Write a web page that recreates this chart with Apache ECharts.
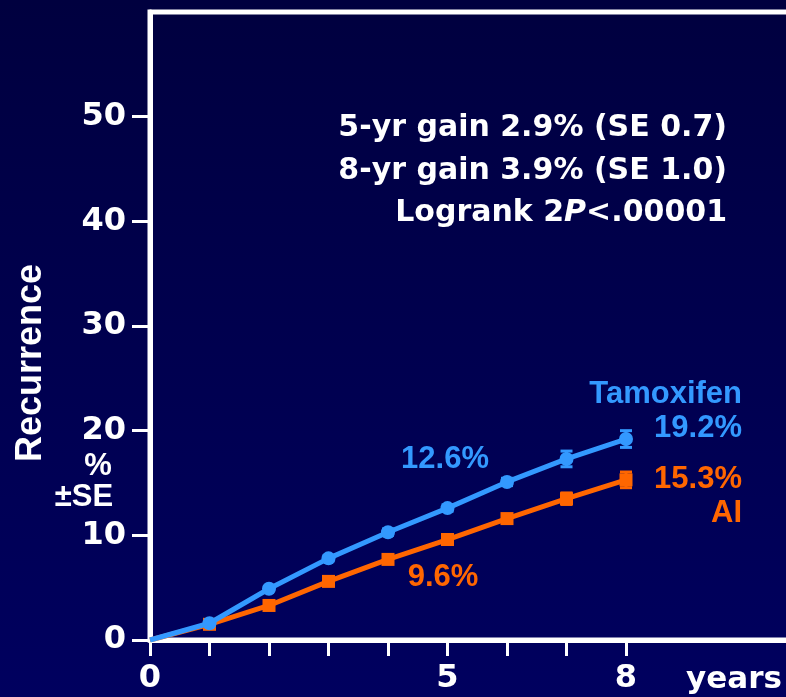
<!DOCTYPE html>
<html>
<head>
<meta charset="utf-8">
<script src="https://cdn.jsdelivr.net/npm/echarts@6/dist/echarts.min.js"></script>
<style>
  html, body { margin: 0; padding: 0; }
  #chart { width: 786px; height: 697px; }
</style>
</head>
<body>
<div id="chart"></div>
<script>
// Cumulative recurrence (%) by year of follow-up
const years = [0, 1, 2, 3, 4, 5, 6, 7, 8];
const tamoxifen = [0, 1.6, 4.9, 7.8, 10.3, 12.6, 15.1, 17.3, 19.2];
const tamoxifenSE = [0, 0.1, 0.2, 0.25, 0.3, 0.3, 0.35, 0.75, 0.8];
const ai = [0, 1.5, 3.3, 5.6, 7.7, 9.6, 11.6, 13.5, 15.3];
const aiSE = [0, 0.1, 0.15, 0.2, 0.25, 0.3, 0.35, 0.55, 0.75];

const yTicks = [0, 10, 20, 30, 40, 50];
const xTicks = [0, 1, 2, 3, 4, 5, 6, 7, 8];
const xLabels = [0, 5, 8];

const summaryLines = [
  '5-yr gain 2.9% (SE 0.7)',
  '8-yr gain 3.9% (SE 1.0)'
];

const BLUE = '#3399ff';
const ORANGE = '#ff6600';
const FONT = '"Liberation Sans", Arial, sans-serif';
const WIDE = '"DejaVu Sans", sans-serif';

const pct = v => v.toFixed(1) + '%';
const pairs = (xs, ys) => xs.map((x, i) => [x, ys[i]]);
const errData = (xs, ys, se) => xs.map((x, i) => [x, ys[i], se[i]]).filter(d => d[2] > 0);

function errorBar(color) {
  return function (params, api) {
    const x = api.value(0), y = api.value(1), se = api.value(2);
    const hi = api.coord([x, y + se]);
    const lo = api.coord([x, y - se]);
    const half = 6;
    const style = { stroke: color, lineWidth: 3 };
    return {
      type: 'group',
      children: [
        { type: 'line', shape: { x1: hi[0], y1: hi[1], x2: lo[0], y2: lo[1] }, style },
        { type: 'line', shape: { x1: hi[0] - half, y1: hi[1], x2: hi[0] + half, y2: hi[1] }, style },
        { type: 'line', shape: { x1: lo[0] - half, y1: lo[1], x2: lo[0] + half, y2: lo[1] }, style }
      ]
    };
  };
}

const txt = (text, x, y, opts) => ({
  type: 'text', x, y, z: 10,
  style: Object.assign({
    text, fill: '#fff', font: 'bold 30px ' + FONT,
    textAlign: 'right', textVerticalAlign: 'middle'
  }, opts || {})
});

const chart = echarts.init(document.getElementById('chart'));
chart.setOption({
  animation: false,
  backgroundColor: {
    type: 'linear', x: 0, y: 0, x2: 0, y2: 1,
    colorStops: [{ offset: 0, color: '#00003f' }, { offset: 1, color: '#00005f' }]
  },
  grid: {
    left: 150, top: 12, width: 654.5, height: 628,
    outerBoundsMode: 'none', containLabel: false,
    show: true, borderColor: '#ffffff', borderWidth: 5,
    backgroundColor: 'transparent'
  },
  xAxis: {
    type: 'value', min: 0, max: 11, interval: 1,
    axisLine: { show: true, onZero: false, lineStyle: { color: '#fff', width: 5 } },
    axisTick: { show: true, customValues: xTicks, length: 16, lineStyle: { color: '#fff', width: 3 } },
    axisLabel: {
      customValues: xLabels, color: '#fff', fontSize: 32, fontWeight: 'bold',
      fontFamily: WIDE, margin: 23
    },
    splitLine: { show: false }
  },
  yAxis: {
    type: 'value', min: 0, max: 60, interval: 10,
    axisLine: { show: true, lineStyle: { color: '#fff', width: 5 } },
    axisTick: { show: true, customValues: yTicks, length: 18, lineStyle: { color: '#fff', width: 3 } },
    axisLabel: {
      customValues: yTicks, color: '#fff', fontSize: 32, fontWeight: 'bold',
      fontFamily: WIDE, margin: 24
    },
    splitLine: { show: false }
  },
  series: [
    {
      name: 'AI err', type: 'custom', z: 2, silent: true,
      renderItem: errorBar(ORANGE), data: errData(years, ai, aiSE)
    },
    {
      name: 'Tamoxifen err', type: 'custom', z: 2, silent: true,
      renderItem: errorBar(BLUE), data: errData(years, tamoxifen, tamoxifenSE)
    },
    {
      name: 'AI', type: 'line', z: 3, data: pairs(years, ai),
      symbol: 'rect', symbolSize: (v) => (v[0] === 0 ? 0 : 13),
      showAllSymbol: true,
      lineStyle: { color: ORANGE, width: 5 },
      itemStyle: { color: ORANGE }
    },
    {
      name: 'Tamoxifen', type: 'line', z: 4, data: pairs(years, tamoxifen),
      symbol: 'circle', symbolSize: (v) => (v[0] === 0 ? 0 : 14),
      showAllSymbol: true,
      lineStyle: { color: BLUE, width: 5 },
      itemStyle: { color: BLUE }
    }
  ],
  graphic: [
    txt(summaryLines[0], 727, 128, { font: 'bold 30px ' + WIDE }),
    txt(summaryLines[1], 727, 171, { font: 'bold 30px ' + WIDE }),
    {
      type: 'text', x: 727, y: 213, z: 10,
      style: {
        text: '{n|Logrank 2}{i|P}{n|<.00001}',
        textAlign: 'right', textVerticalAlign: 'middle',
        rich: {
          n: { fill: '#fff', font: 'bold 30px ' + WIDE },
          i: { fill: '#fff', font: 'italic bold 30px ' + WIDE }
        }
      }
    },
    txt('Tamoxifen', 742, 394, { fill: BLUE, font: 'bold 31px ' + FONT }),
    txt(pct(tamoxifen[8]), 742, 428, { fill: BLUE, font: 'bold 31px ' + FONT }),
    txt(pct(ai[8]), 742, 479, { fill: ORANGE, font: 'bold 31px ' + FONT }),
    txt('AI', 742, 513, { fill: ORANGE, font: 'bold 31px ' + FONT }),
    txt(pct(tamoxifen[5]), 445, 459, { fill: BLUE, textAlign: 'center', font: 'bold 31px ' + FONT }),
    txt(pct(ai[5]), 443, 577, { fill: ORANGE, textAlign: 'center', font: 'bold 31px ' + FONT }),
    {
      type: 'text', x: 31, y: 363, rotation: Math.PI / 2, z: 10,
      style: {
        text: 'Recurrence', fill: '#fff', font: 'bold 36px ' + FONT,
        textAlign: 'center', textVerticalAlign: 'middle'
      }
    },
    txt('%', 98, 466, { textAlign: 'center', font: 'bold 31px ' + FONT }),
    txt('±SE', 84, 497, { textAlign: 'center', font: 'bold 31px ' + FONT }),
    txt('years', 782, 680, { font: 'bold 31px ' + WIDE })
  ]
});
</script>
</body>
</html>
